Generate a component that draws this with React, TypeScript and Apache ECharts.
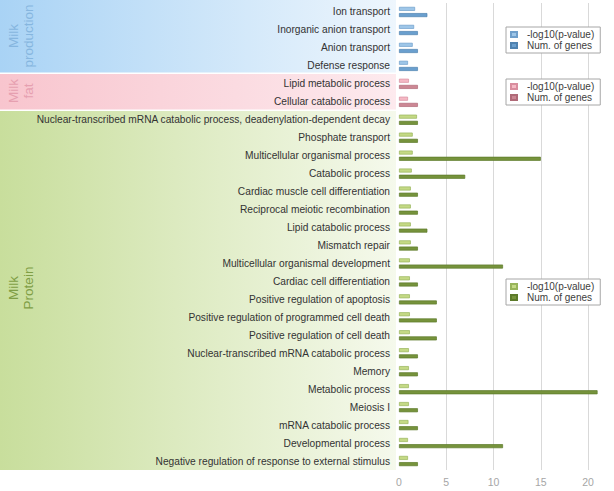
import React, { useEffect, useRef } from 'react';
import * as echarts from 'echarts';

const categories = [
  'Ion transport',
  'Inorganic anion transport',
  'Anion transport',
  'Defense response',
  'Lipid metabolic process',
  'Cellular catabolic process',
  'Nuclear-transcribed mRNA catabolic process, deadenylation-dependent decay',
  'Phosphate transport',
  'Multicellular organismal process',
  'Catabolic process',
  'Cardiac muscle cell differentiation',
  'Reciprocal meiotic recombination',
  'Lipid catabolic process',
  'Mismatch repair',
  'Multicellular organismal development',
  'Cardiac cell differentiation',
  'Positive regulation of apoptosis',
  'Positive regulation of programmed cell death',
  'Positive regulation of cell death',
  'Nuclear-transcribed mRNA catabolic process',
  'Memory',
  'Metabolic process',
  'Meiosis I',
  'mRNA catabolic process',
  'Developmental process',
  'Negative regulation of response to external stimulus',
];

const pValues = [
  1.7, 1.6, 1.45, 0.95,
  1.05, 0.95,
  1.9, 1.45, 1.45, 1.35, 1.25, 1.25, 1.25, 1.25, 1.15, 1.15,
  1.15, 1.15, 1.15, 1.05, 1.05, 1.05, 1.05, 1.0, 0.95, 0.95,
];

const geneCounts = [
  3, 2, 2, 2,
  2, 2,
  2, 2, 15, 7, 2, 2, 3, 2, 11, 2,
  4, 4, 4, 2, 2, 21, 2, 2, 11, 2,
];

const groupOf = [
  'prod', 'prod', 'prod', 'prod',
  'fat', 'fat',
  'protein', 'protein', 'protein', 'protein', 'protein', 'protein', 'protein', 'protein', 'protein', 'protein',
  'protein', 'protein', 'protein', 'protein', 'protein', 'protein', 'protein', 'protein', 'protein', 'protein',
];

const groupKeys = ['prod', 'fat', 'protein'];
const groupLabels = ['Milk\nproduction', 'Milk\nfat', 'Milk\nProtein'];
const legendLabels = ['-log10(p-value)', 'Num. of genes'];
const xTicks = [0, 5, 10, 15, 20];

const groupStyle: Record<string, any> = {
  prod: {
    light: '#9ec6e8', lightBorder: '#6f9fcb', dark: '#6a9fce', darkBorder: '#4f82b0',
    bandL: '#a9d3f5', bandR: '#eef6fd', text: '#86b6df', bandTop: 0, bandBottom: 72.5, labelY: 36, legendTop: 27,
  },
  fat: {
    light: '#f5b9c5', lightBorder: '#d98d9e', dark: '#cc8794', darkBorder: '#b06a78',
    bandL: '#f8c5ce', bandR: '#fdeaee', text: '#e6a0b0', bandTop: 74, bandBottom: 109.5, labelY: 91, legendTop: 79,
  },
  protein: {
    light: '#c4d985', lightBorder: '#98b45a', dark: '#76933c', darkBorder: '#5c7a2a',
    bandL: '#c8de9c', bandR: '#f5f9ec', text: '#7f9e45', bandTop: 111, bandBottom: 470, labelY: 288, legendTop: 279,
  },
};

export default function App() {
  const ref = useRef<HTMLDivElement>(null);

  useEffect(() => {
    if (!ref.current) return;
    const chart = echarts.init(ref.current, null, { renderer: 'svg' });

    const series: any[] = [];
    groupKeys.forEach((g) => {
      const s = groupStyle[g];
      series.push({
        name: g + '_p',
        type: 'bar',
        stack: 'p',
        barWidth: 4,
        barGap: '55%',
        data: pValues.map((v, i) => (groupOf[i] === g ? v : '-')),
        itemStyle: { color: s.light, borderColor: s.lightBorder, borderWidth: 0.7 },
      });
      series.push({
        name: g + '_n',
        type: 'bar',
        stack: 'n',
        barWidth: 4,
        barGap: '55%',
        data: geneCounts.map((v, i) => (groupOf[i] === g ? v : '-')),
        itemStyle: { color: s.dark, borderColor: s.darkBorder, borderWidth: 0.7 },
      });
    });

    const legends = groupKeys.map((g) => ({
      data: [g + '_p', g + '_n'],
      left: 506,
      top: groupStyle[g].legendTop,
      orient: 'vertical',
      selectedMode: false,
      padding: [2, 6, 2, 4],
      itemGap: 0,
      itemWidth: 6,
      itemHeight: 5,
      borderColor: '#a6a6a6',
      borderWidth: 1,
      backgroundColor: '#ffffff',
      icon: 'rect',
      formatter: (name: string) => (name.endsWith('_p') ? legendLabels[0] : legendLabels[1]),
      textStyle: {
        fontFamily: 'Liberation Sans, Arial, sans-serif',
        fontSize: 10,
        color: '#404040',
        lineHeight: 11,
        padding: [0, 0, 0, 5],
      },
    }));

    const graphic: any[] = [];
    groupKeys.forEach((g, k) => {
      const s = groupStyle[g];
      graphic.push({
        type: 'rect',
        z: -10,
        shape: { x: 0, y: s.bandTop, width: 396, height: s.bandBottom - s.bandTop },
        style: {
          fill: new echarts.graphic.LinearGradient(0, 0, 1, 0, [
            { offset: 0, color: s.bandL },
            { offset: 1, color: s.bandR },
          ]),
        },
      });
      graphic.push({
        type: 'text',
        z: -5,
        x: 21,
        y: s.labelY,
        rotation: Math.PI / 2,
        style: {
          text: groupLabels[k],
          fill: s.text,
          font: '13.5px "Liberation Sans", Arial, sans-serif',
          lineHeight: 15,
          align: 'center',
          verticalAlign: 'middle',
        },
      });
    });

    chart.setOption({
      animation: false,
      backgroundColor: '#ffffff',
      grid: { left: 399, top: 3, right: 7, bottom: 21, containLabel: false, outerBoundsMode: 'none' },
      legend: legends,
      graphic,
      xAxis: {
        type: 'value',
        min: xTicks[0],
        max: 22,
        interval: xTicks[1] - xTicks[0],
        axisLine: { show: false },
        axisTick: { show: false },
        splitLine: { show: true, showMinLine: false, showMaxLine: false, lineStyle: { color: '#d9d9d9', width: 1 } },
        axisLabel: {
          color: '#a6a6a6',
          fontSize: 10.5,
          fontFamily: 'Liberation Sans, Arial, sans-serif',
          margin: 6,
          showMaxLabel: false,
          formatter: (v: number) => (xTicks.includes(v) ? String(v) : ''),
        },
      },
      yAxis: {
        type: 'category',
        inverse: true,
        data: categories,
        axisLine: { show: false },
        axisTick: { show: false },
        splitLine: { show: false },
        axisLabel: {
          interval: 0,
          color: '#333333',
          fontSize: 10.2,
          fontFamily: 'Liberation Sans, Arial, sans-serif',
          margin: 9,
        },
      },
      series,
    });

    return () => chart.dispose();
  }, []);

  return (
    <div
      ref={ref}
      style={{ position: 'fixed', left: 0, top: 0, width: 614, height: 491 }}
    />
  );
}
